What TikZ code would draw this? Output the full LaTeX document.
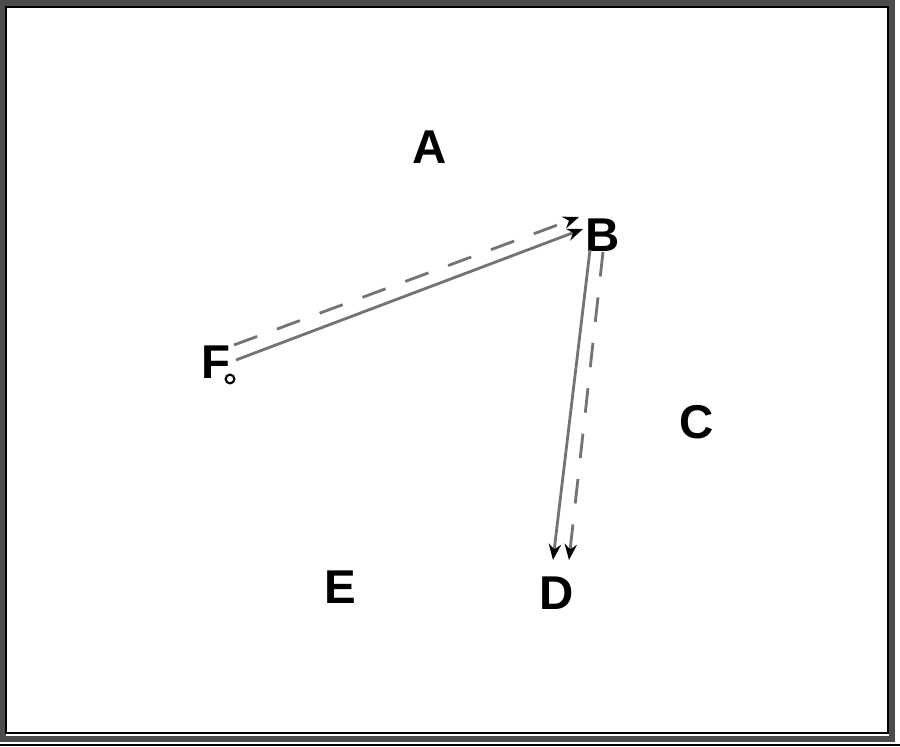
\documentclass[tikz,border=0pt]{standalone}
\usepackage{fontspec}
\setmainfont{Liberation Sans}
\usetikzlibrary{arrows.meta}
\tikzset{
  lbl/.style={font=\fontsize{27}{30}\selectfont\bfseries, inner sep=0pt},
  link/.style={draw=black!55, line width=1.6pt, -{Stealth[length=9pt,width=7pt,black]}},
  linkdash/.style={link, dash pattern=on 14pt off 12pt}
}
\begin{document}
\begin{tikzpicture}[x=0.02cm,y=-0.02cm]
                \useasboundingbox (0,0) rectangle (900,747);
                % Drawing frame
                \draw [line width=3pt, black!70] (3,3) rectangle (892,739);%
                \draw [line width=0.8pt] (6,7) rectangle (888,733);%
                \draw [line width=0.8pt] (0,745) -- (900,745);%

                % Marking regions
                \node [lbl] (A) at (430,147) {A};%
                \node [lbl] (B) at (603,235) {B};%
                \node [lbl] (C) at (697,422) {C};%
                \node [lbl] (D) at (557,593) {D};%
                \node [lbl] (E) at (340,587) {E};%
                \node [lbl] (F) at (216,362) {F};%

                % Marking point F by circle
                \draw [line width=1.2pt] (230,379) circle (2.5pt);%

                % End points of the moves
                \coordinate (f1) at (236,360);%
                \coordinate (b1) at (583,229);%
                \coordinate (f2) at (234,345);%
                \coordinate (b2) at (579,217);%
                \coordinate (b3) at (590,250);%
                \coordinate (d3) at (553,560);%
                \coordinate (b4) at (603,252);%
                \coordinate (d4) at (569,560);%

                % Drawing move F to B
                \draw [link] (f1) -- (b1);%
                \draw [linkdash] (f2) -- (b2);%

                % Drawing move B to D
                \draw [link] (b3) -- (d3);%
                \draw [linkdash] (b4) -- (d4);%
\end{tikzpicture}
\end{document}
